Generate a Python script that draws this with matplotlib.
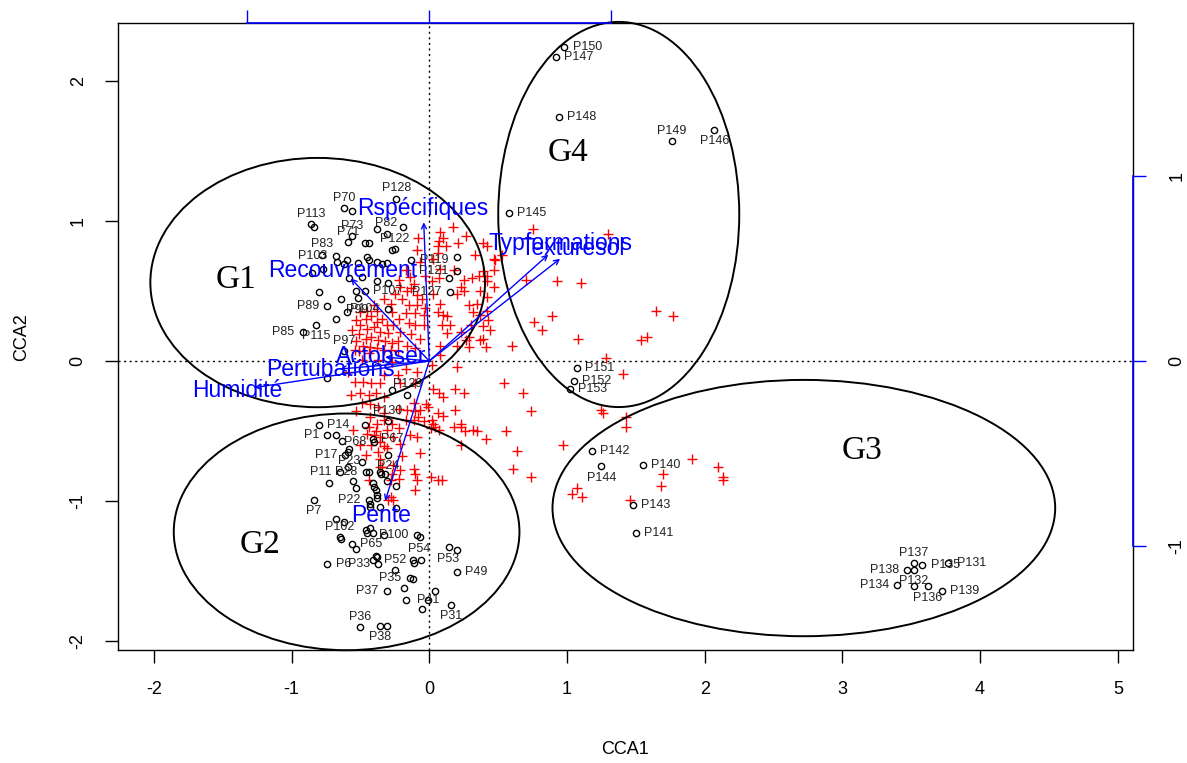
import matplotlib
matplotlib.use('Agg')
import matplotlib.pyplot as plt
from matplotlib.patches import Ellipse

plt.rcParams['font.family'] = ['Liberation Sans', 'DejaVu Sans']
plt.rcParams['axes.unicode_minus'] = False

# ---- site scores (CCA1, CCA2), label text and label side ----
sites = [
    ("P150", 0.98, 2.24, "r"), ("P147", 0.92, 2.17, "r"), ("P148", 0.94, 1.74, "r"),
    ("P149", 1.76, 1.57, "a"), ("P146", 2.07, 1.65, "b"), ("P145", 0.58, 1.06, "r"),
    ("P151", 1.07, -0.05, "r"), ("P152", 1.05, -0.14, "r"), ("P153", 1.02, -0.20, "r"),
    ("P142", 1.18, -0.64, "r"), ("P144", 1.25, -0.75, "b"), ("P140", 1.55, -0.74, "r"),
    ("P143", 1.48, -1.03, "r"), ("P141", 1.50, -1.23, "r"),
    ("P137", 3.52, -1.44, "a"), ("P138", 3.47, -1.49, "l"), ("P132", 3.52, -1.49, "b"),
    ("P135", 3.58, -1.46, "r"), ("P131", 3.77, -1.44, "r"), ("P134", 3.40, -1.60, "l"),
    ("", 3.52, -1.61, ""), ("P136", 3.62, -1.61, "b"), ("P139", 3.72, -1.64, "r"),
    # G1
    ("P128", -0.24, 1.16, "a"), ("P70", -0.62, 1.09, "a"), ("", -0.56, 1.07, ""),
    ("P113", -0.86, 0.98, "a"), ("", -0.84, 0.96, ""), ("P73", -0.56, 0.89, "a"),
    ("P71", -0.59, 0.85, "a"), ("P82", -0.31, 0.91, "a"), ("", -0.38, 0.94, ""),
    ("", -0.19, 0.96, ""), ("P122", -0.25, 0.80, "a"), ("", -0.27, 0.79, ""),
    ("", -0.47, 0.84, ""), ("", -0.44, 0.84, ""), ("P83", -0.78, 0.76, "a"),
    ("P103", -0.68, 0.75, "l"), ("", -0.67, 0.71, ""), ("", -0.60, 0.72, ""),
    ("", -0.62, 0.69, ""), ("", -0.52, 0.70, ""), ("", -0.45, 0.74, ""),
    ("", -0.44, 0.72, ""), ("", -0.38, 0.71, ""), ("", -0.34, 0.69, ""),
    ("", -0.31, 0.70, ""), ("P119", -0.13, 0.72, "r"), ("P121", 0.20, 0.64, "l"),
    ("", 0.20, 0.74, ""), ("", 0.14, 0.59, ""), ("", -0.85, 0.63, ""),
    ("", -0.77, 0.66, ""), ("", -0.58, 0.59, ""), ("", -0.49, 0.60, ""),
    ("", -0.38, 0.57, ""), ("", -0.30, 0.56, ""), ("", -0.80, 0.49, ""),
    ("", -0.53, 0.50, ""), ("", -0.64, 0.44, ""), ("P107", -0.47, 0.50, "r"),
    ("P99", -0.52, 0.45, "b"), ("P104", -0.30, 0.37, "l"), ("P127", 0.15, 0.49, "l"),
    ("P89", -0.74, 0.39, "l"), ("", -0.60, 0.35, ""), ("", -0.68, 0.30, ""),
    ("P115", -0.82, 0.26, "b"), ("P85", -0.92, 0.21, "l"), ("P97", -0.62, 0.07, "a"),
    ("", -0.74, -0.12, ""), ("P129", -0.16, -0.24, "a"), ("", -0.27, -0.21, ""),
    ("P130", -0.30, -0.43, "a"),
    # G2
    ("P14", -0.80, -0.46, "r"), ("", -0.47, -0.46, ""), ("P1", -0.74, -0.53, "l"),
    ("", -0.68, -0.53, ""), ("", -0.63, -0.57, ""), ("P68", -0.40, -0.58, "l"),
    ("P67", -0.41, -0.555, "r"), ("P17", -0.61, -0.67, "l"), ("", -0.59, -0.65, ""),
    ("P23", -0.58, -0.63, "b"), ("P24", -0.30, -0.67, "b"), ("P11", -0.65, -0.79, "l"),
    ("", -0.59, -0.76, ""), ("P28", -0.46, -0.79, "l"), ("", -0.44, -0.79, ""),
    ("", -0.49, -0.72, ""), ("", -0.73, -0.87, ""), ("", -0.55, -0.86, ""),
    ("", -0.53, -0.91, ""), ("", -0.41, -0.87, ""), ("", -0.40, -0.90, ""),
    ("", -0.39, -0.92, ""), ("", -0.38, -0.96, ""), ("", -0.38, -0.98, ""),
    ("", -0.36, -0.79, ""), ("", -0.35, -0.81, ""), ("", -0.32, -0.81, ""),
    ("", -0.31, -0.86, ""), ("", -0.24, -0.89, ""), ("P7", -0.84, -0.99, "b"),
    ("P22", -0.44, -0.99, "l"), ("", -0.43, -1.02, ""), ("", -0.43, -1.04, ""),
    ("", -0.36, -1.04, ""), ("", -0.24, -1.05, ""), ("", -0.68, -1.13, ""),
    ("", -0.62, -1.15, ""), ("P102", -0.65, -1.26, "a"), ("", -0.64, -1.27, ""),
    ("", -0.46, -1.21, ""), ("", -0.45, -1.23, ""), ("", -0.43, -1.19, ""),
    ("", -0.41, -1.23, ""), ("", -0.33, -1.24, ""), ("P100", -0.09, -1.24, "l"),
    ("P54", -0.07, -1.26, "b"), ("P65", -0.56, -1.31, "r"), ("", -0.53, -1.34, ""),
    ("", -0.39, -1.39, ""), ("", -0.38, -1.40, ""), ("", -0.41, -1.42, ""),
    ("P6", -0.74, -1.45, "r"), ("P33", -0.37, -1.45, "l"), ("P52", -0.25, -1.49, "a"),
    ("", -0.12, -1.42, ""), ("", -0.11, -1.44, ""), ("", -0.06, -1.42, ""),
    ("P53", 0.14, -1.33, "b"), ("", 0.20, -1.35, ""), ("P49", 0.20, -1.51, "r"),
    ("P35", -0.14, -1.55, "l"), ("", -0.12, -1.56, ""), ("P37", -0.31, -1.64, "l"),
    ("", -0.18, -1.62, ""), ("", -0.17, -1.71, ""), ("", 0.04, -1.64, ""),
    ("P41", -0.01, -1.71, "c"), ("", -0.05, -1.77, ""), ("P31", 0.16, -1.74, "b"),
    ("P36", -0.50, -1.90, "a"), ("P38", -0.36, -1.89, "b"), ("", -0.31, -1.89, ""),
]
site_names = [s[0] for s in sites]
site_x = [s[1] for s in sites]
site_y = [s[2] for s in sites]
site_pos = [s[3] for s in sites]

# ---- species scores ----
species = [
    (0.75, 0.94), (1.30, 0.91), (0.39, 0.84), (0.48, 0.72), (0.47, 0.65), (0.70, 0.58),
    (0.93, 0.57), (1.10, 0.56), (1.65, 0.36), (1.77, 0.32), (0.89, 0.32), (0.76, 0.28),
    (0.82, 0.22), (1.08, 0.16), (1.54, 0.15), (1.58, 0.17), (0.60, 0.11), (1.28, 0.02),
    (1.41, -0.09), (0.54, -0.16), (0.68, -0.23), (0.74, -0.36), (1.25, -0.35), (1.26, -0.37),
    (1.43, -0.40), (1.43, -0.47), (0.97, -0.60), (0.64, -0.64), (0.61, -0.77), (0.74, -0.83),
    (1.91, -0.70), (1.70, -0.81), (2.10, -0.76), (2.13, -0.83), (2.13, -0.85), (1.68, -0.89),
    (1.46, -0.99), (1.04, -0.95), (1.07, -0.91), (1.11, -0.97), (0.56, -0.50), (0.41, -0.56),
    (0.35, -0.50), (0.26, -0.50), (0.23, -0.47), (0.19, -0.35), (0.19, -0.20), (0.10, -0.26),
    (0.07, -0.23), (0.03, -0.20), (0.20, -0.04), (0.25, -0.23), (0.23, -0.60), (0.06, -0.85),
    (0.09, -0.85), (0.01, -0.83), (-0.11, -0.77), (-0.09, -0.85), (-0.10, -0.92), (-0.07, -0.66),
    (-0.21, -0.78), (-0.22, -0.84), (-0.28, -0.97), (-0.26, -0.99), (-0.30, -0.99), (-0.20, -0.68),
    (-0.26, -0.74), (-0.34, -0.76), (-0.10, -0.81), (-0.28, -0.85), (-0.37, -0.65), (-0.36, -0.70),
    (-0.36, -0.76), (-0.27, -0.81), (-0.40, -0.53), (-0.45, -0.52), (-0.36, -0.58), (-0.31, -0.62),
    (-0.50, -0.60), (-0.46, -0.67), (-0.44, -0.85),
    (-0.11, -0.30), (-0.07, -0.35), (-0.01, -0.33), (0.06, -0.37), (0.10, -0.39), (0.03, -0.45),
    (0.18, -0.47), (0.23, -0.45), (0.32, -0.49), (-0.17, -0.42), (-0.22, -0.48), (-0.27, -0.45),
    (-0.33, -0.37), (-0.44, -0.47),
    (-0.48, -0.15), (-0.42, -0.16), (-0.36, -0.16), (-0.33, -0.10), (-0.23, -0.10), (-0.17, -0.06),
    (-0.09, -0.08), (-0.21, -0.16), (-0.10, -0.16), (-0.50, -0.23), (-0.44, -0.24), (-0.39, -0.23),
    (-0.33, -0.26), (-0.49, -0.30), (-0.43, -0.31), (-0.37, -0.33), (-0.22, -0.34), (-0.16, -0.35),
    (-0.10, -0.36), (-0.02, -0.31), (-0.08, -0.40), (-0.11, -0.42), (-0.04, -0.43), (0.02, -0.42),
    (0.04, -0.47), (0.07, -0.49), (0.01, -0.48), (-0.43, -0.40), (-0.38, -0.45), (-0.33, -0.42),
    (-0.39, -0.50), (-0.31, -0.49), (-0.36, -0.54), (-0.42, -0.60), (-0.33, -0.61), (-0.26, -0.54),
    (-0.21, -0.59), (-0.14, -0.53), (-0.09, -0.54), (-0.55, -0.49),
    (0.47, 0.73), (0.42, 0.61), (0.36, 0.61), (0.31, 0.59), (0.47, 0.53), (0.25, 0.50),
    (0.23, 0.53), (0.35, 0.41), (0.29, 0.40), (0.32, 0.35), (0.37, 0.33), (0.43, 0.29),
    (0.39, 0.25), (0.30, 0.26), (0.23, 0.21), (0.27, 0.15), (0.37, 0.15), (0.10, 0.33),
    (0.15, 0.26), (0.13, 0.20), (0.20, 0.11), (0.08, 0.11), (0.06, 0.77), (0.08, 0.66),
    (0.07, 0.59), (0.02, 0.57), (0.03, 0.48), (0.08, 0.41), (0.06, 0.35), (0.09, 0.26),
    (0.08, 0.92), (0.07, 0.86), (0.10, 0.88), (0.06, 0.82), (0.12, 0.82), (0.03, 0.73),
    (0.18, 0.65), (0.25, 0.58), (0.20, 0.48), (0.42, 0.46), (0.13, 0.32), (0.42, 0.82),
    (0.39, 0.64), (0.42, 0.57), (0.37, 0.50), (0.42, 0.36), (0.44, 0.22), (0.39, 0.16),
    (0.41, 0.10), (0.29, 0.17), (0.29, 0.10), (0.17, 0.96), (0.27, 0.89), (0.21, 0.84),
    (0.33, 0.76), (0.53, 0.76), (0.08, 0.04), (0.02, -0.03),
    (-0.21, 0.53), (-0.16, 0.50), (-0.13, 0.52), (-0.09, 0.47), (-0.20, 0.44), (-0.15, 0.40),
    (-0.09, 0.40), (-0.05, 0.44), (-0.03, 0.38), (-0.17, 0.34), (-0.10, 0.34), (-0.04, 0.33),
    (-0.22, 0.30), (-0.15, 0.27), (-0.10, 0.26), (-0.04, 0.26), (-0.21, 0.21), (-0.13, 0.19),
    (-0.07, 0.16), (-0.16, 0.11), (-0.23, 0.14), (-0.10, 0.09), (-0.22, 0.58), (-0.25, 0.48),
    (-0.28, 0.41), (-0.14, 0.60), (-0.11, 0.55), (-0.09, 0.79), (-0.07, 0.71), (-0.03, 0.61),
    (-0.17, 0.65), (-0.08, 0.88),
    (-0.50, 0.35), (-0.46, 0.30), (-0.42, 0.32), (-0.38, 0.28), (-0.34, 0.30), (-0.31, 0.26),
    (-0.50, 0.26), (-0.45, 0.23), (-0.40, 0.24), (-0.36, 0.21), (-0.30, 0.20), (-0.51, 0.19),
    (-0.46, 0.16), (-0.42, 0.17), (-0.37, 0.15), (-0.32, 0.14), (-0.27, 0.13), (-0.53, 0.14),
    (-0.48, 0.11), (-0.43, 0.10), (-0.38, 0.09), (-0.33, 0.08), (-0.28, 0.08), (-0.23, 0.07),
    (-0.51, 0.07), (-0.44, 0.06), (-0.40, 0.40), (-0.45, 0.36), (-0.38, 0.36), (-0.53, 0.29),
    (-0.33, 0.44), (-0.27, 0.35), (-0.26, 0.26), (-0.56, 0.22), (-0.54, 0.08), (-0.49, 0.01),
    (-0.37, 0.01), (-0.27, -0.01), (-0.59, -0.08), (-0.54, -0.15), (-0.57, -0.24), (-0.53, -0.36),
]
sp_x = [p[0] for p in species]
sp_y = [p[1] for p in species]

# ---- environmental biplot arrows (already scaled to plot units) ----
env_names = ["Rspécifiques", "Recouvrement", "Humidité", "Pertubations", "Actobser",
             "Typformations", "Texturesol", "Pente"]
env_x = [-0.04, -0.57, -1.27, -0.65, -0.32, 0.865, 0.95, -0.32]
env_y = [0.99, 0.59, -0.19, -0.058, 0.028, 0.76, 0.73, -1.0]
mul = 1.32   # biplot arrow multiplier

# ---- group ellipses ----
grp_names = ["G1", "G2", "G3", "G4"]
grp_cx = [-0.81, -0.60, 2.72, 1.376]
grp_cy = [0.56, -1.22, -1.05, 1.046]
grp_w = [2.43, 2.51, 3.65, 1.75]
grp_h = [1.78, 1.69, 1.83, 2.75]
grp_lx = [-1.40, -1.23, 3.14, 1.01]
grp_ly = [0.58, -1.31, -0.64, 1.49]

fig = plt.figure(figsize=(11.87, 7.63), dpi=100)
ax = fig.add_axes([0.0994, 0.148, 0.8551, 0.822])
ax.set_xlim(-2.26, 5.11)
ax.set_ylim(-2.064, 2.414)

ax.axhline(0, color='black', ls=(0, (1.5, 2.5)), lw=1, zorder=1)
ax.axvline(0, color='black', ls=(0, (1.5, 2.5)), lw=1, zorder=1)

ax.plot(sp_x, sp_y, ls='none', marker='+', color='red', ms=7, mew=1, zorder=2)
ax.plot(site_x, site_y, ls='none', marker='o', mfc='none', mec='black', ms=4.5, mew=1, zorder=3)

offs = {'r': ((6, 0), 'left', 'center'), 'l': ((-6, 0), 'right', 'center'),
        'a': ((0, 3), 'center', 'bottom'), 'b': ((0, -4), 'center', 'top'),
        'c': ((0, 0), 'center', 'center')}
for name, x, y, p in zip(site_names, site_x, site_y, site_pos):
    if not name:
        continue
    d, ha, va = offs[p]
    ax.annotate(name, (x, y), xytext=d, textcoords='offset points', ha=ha, va=va,
                fontsize=9, color='#222222', zorder=4)

for name, x, y in zip(env_names, env_x, env_y):
    ax.annotate('', xy=(x, y), xytext=(0, 0),
                arrowprops=dict(arrowstyle='->', color='blue', lw=1, shrinkA=0, shrinkB=0,
                                mutation_scale=9), zorder=5)
    ax.text(1.1 * x, 1.1 * y, name, color='blue', fontsize=16.5, ha='center', va='center',
            zorder=6)

for i in range(len(grp_names)):
    ax.add_patch(Ellipse((grp_cx[i], grp_cy[i]), grp_w[i], grp_h[i], fill=False,
                         ec='black', lw=1.4, zorder=4, clip_on=False))
    ax.text(grp_lx[i], grp_ly[i], grp_names[i], family='Liberation Serif', fontsize=24,
            ha='center', va='center', zorder=6)

ax.set_xticks(range(-2, 6))
ax.set_yticks(range(-2, 3))
ax.tick_params(direction='out', length=9.5, width=1, labelsize=13, pad=13)
for lab in ax.get_yticklabels():
    lab.set_rotation(90)
    lab.set_va('center')
for s in ax.spines.values():
    s.set_linewidth(1)

# biplot scale axes (top and right)
topax = ax.secondary_xaxis('top', functions=(lambda v: v / mul, lambda v: v * mul))
topax.set_xticks([-1, 0, 1])
topax.tick_params(colors='blue', length=9.5, width=1, labeltop=False)
topax.spines['top'].set_visible(False)
rax = ax.secondary_yaxis('right', functions=(lambda v: v / mul, lambda v: v * mul))
rax.set_yticks([-1, 0, 1])
rax.tick_params(axis='y', colors='blue', length=9.5, width=1, pad=16, labelsize=13,
                labelcolor='black')
rax.spines['right'].set_visible(False)
for lab in rax.get_yticklabels():
    lab.set_rotation(90)
    lab.set_va('center')
ax.plot([-mul, mul], [1, 1], transform=ax.get_xaxis_transform(), color='blue', lw=1.2,
        clip_on=False, zorder=7)
ax.plot([1, 1], [-mul, mul], transform=ax.get_yaxis_transform(), color='blue', lw=1.2,
        clip_on=False, zorder=7)

fig.text(0.0994 + 0.8551 / 2, 1 - 750 / 763, 'CCA1', ha='center', va='center', fontsize=13)
fig.text(22 / 1187, 1 - 337 / 763, 'CCA2', ha='center', va='center', rotation=90, fontsize=13)

fig.savefig('out.png', dpi=100)
